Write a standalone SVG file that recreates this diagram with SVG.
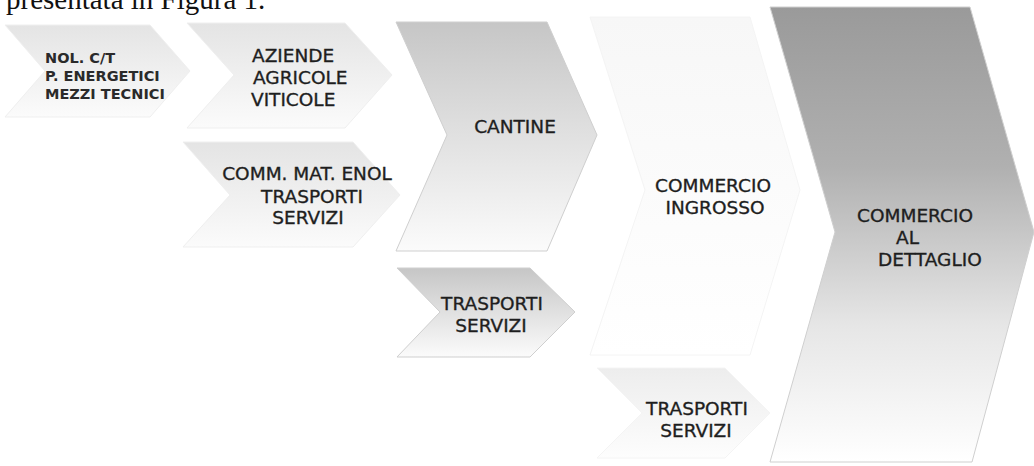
<svg xmlns="http://www.w3.org/2000/svg" width="1034" height="466" viewBox="0 0 1034 466">
  <defs>
    <linearGradient id="gLight" x1="0" y1="0" x2="0" y2="1">
      <stop offset="0" stop-color="#e4e4e4"/>
      <stop offset="1" stop-color="#fbfbfb"/>
    </linearGradient>
    <linearGradient id="gMid" x1="0" y1="0" x2="0" y2="1">
      <stop offset="0" stop-color="#c6c6c6"/>
      <stop offset="0.45" stop-color="#dedede"/>
      <stop offset="1" stop-color="#fbfbfb"/>
    </linearGradient>
    <linearGradient id="gFaint" x1="0" y1="0" x2="0" y2="1">
      <stop offset="0" stop-color="#f7f7f7"/>
      <stop offset="1" stop-color="#ffffff"/>
    </linearGradient>
    <linearGradient id="gFaint2" x1="0" y1="0" x2="0" y2="1">
      <stop offset="0" stop-color="#ededed"/>
      <stop offset="1" stop-color="#fdfdfd"/>
    </linearGradient>
    <linearGradient id="gDark" x1="0" y1="0" x2="0" y2="1">
      <stop offset="0" stop-color="#9a9a9a"/>
      <stop offset="0.35" stop-color="#b0b0b0"/>
      <stop offset="0.7" stop-color="#e6e6e6"/>
      <stop offset="1" stop-color="#ffffff"/>
    </linearGradient>
  </defs>
  <style>
    .lbl { font-family: "DejaVu Sans", Verdana, sans-serif; font-size: 18.5px; fill: #1e1e1e; stroke: #1e1e1e; stroke-width: 0.35; }
    .lblS { font-family: "DejaVu Sans", Verdana, sans-serif; font-size: 14.5px; font-weight: bold; fill: #2a2a2a; }
    .mid { text-anchor: middle; }
    .edge { stroke: #cfcfcf; stroke-width: 1; }
    .edgeL { stroke: #efefef; stroke-width: 1; }
    .edgeF { stroke: #f4f4f4; stroke-width: 1; }
    .caption { font-family: "Liberation Serif", "Times New Roman", serif; font-size: 29px; fill: #111; }
  </style>

  <rect width="1034" height="466" fill="#ffffff"/>

  <!-- running text line above the chart, cut by the top edge -->
  <text class="caption" x="6" y="9">presentata in Figura 1.</text>

  <g id="connectors"/>

  <g id="node-nol">
    <polygon points="5,25 150,25 190,71 150,117 5,117 45,71" fill="url(#gLight)" class="edgeL"/>
    <text class="lblS" x="45" y="63">NOL. C/T</text>
    <text class="lblS" x="45" y="81">P. ENERGETICI</text>
    <text class="lblS" x="45" y="99">MEZZI TECNICI</text>
  </g>

  <g id="node-aziende">
    <polygon points="187,23 345,23 392,75 345,128 187,128 234,75" fill="url(#gLight)" class="edgeL"/>
    <text class="lbl" x="252" y="62">AZIENDE</text>
    <text class="lbl" x="253" y="84">AGRICOLE</text>
    <text class="lbl" x="251" y="106">VITICOLE</text>
  </g>

  <g id="node-comm-mat">
    <polygon points="183,142 353,142 400,195 353,247 183,247 230,195" fill="url(#gLight)" class="edgeL"/>
    <text class="lbl mid" x="307" y="180">COMM. MAT. ENOL</text>
    <text class="lbl mid" x="312" y="203">TRASPORTI</text>
    <text class="lbl mid" x="308" y="224">SERVIZI</text>
  </g>

  <g id="node-cantine">
    <polygon points="396,22 547,22 597,135 547,251 396,251 447,135" fill="url(#gMid)" class="edge"/>
    <text class="lbl mid" x="515" y="133">CANTINE</text>
  </g>

  <g id="node-trasporti-1">
    <polygon points="397,268 530,268 575,312 530,357 397,357 440,312" fill="url(#gMid)" class="edge"/>
    <text class="lbl mid" x="492" y="310">TRASPORTI</text>
    <text class="lbl mid" x="491" y="332">SERVIZI</text>
  </g>

  <g id="node-ingrosso">
    <polygon points="590,17 750,17 800,190 750,355 590,355 645,190" fill="url(#gFaint)" class="edgeF"/>
    <text class="lbl mid" x="713" y="192">COMMERCIO</text>
    <text class="lbl mid" x="715" y="214">INGROSSO</text>
  </g>

  <g id="node-trasporti-2">
    <polygon points="597,368 725,368 770,413 725,458 597,458 642,413" fill="url(#gFaint2)" class="edgeF"/>
    <text class="lbl mid" x="697" y="415">TRASPORTI</text>
    <text class="lbl mid" x="696" y="437">SERVIZI</text>
  </g>

  <g id="node-dettaglio">
    <polygon points="770,7 970,7 1034,232 972,462 770,462 835,232" fill="url(#gDark)" class="edge"/>
    <text class="lbl" x="857" y="222">COMMERCIO</text>
    <text class="lbl" x="896" y="244">AL</text>
    <text class="lbl" x="878" y="266">DETTAGLIO</text>
  </g>
</svg>
